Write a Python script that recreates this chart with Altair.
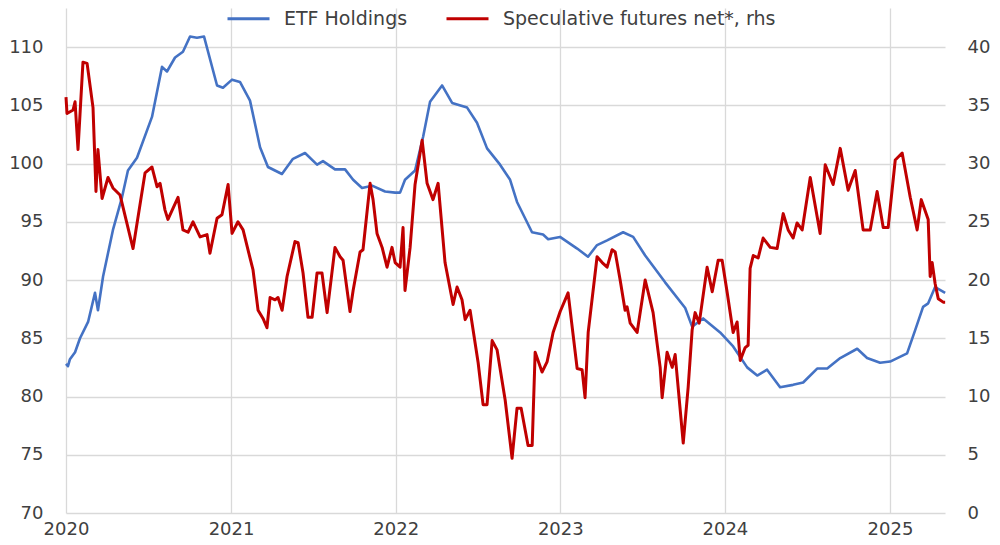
import altair as alt
import pandas as pd

# ---- data (years elapsed since 2020-01-01, values) ----
etf_t = [0.000, 0.012, 0.024, 0.055, 0.085, 0.134, 0.176, 0.194, 0.225, 0.285, 0.340, 0.376,
         0.431, 0.522, 0.583, 0.613, 0.662, 0.710, 0.753, 0.795, 0.838, 0.917, 0.953, 1.008,
         1.056, 1.117, 1.178, 1.226, 1.311, 1.378, 1.451, 1.524, 1.560, 1.633, 1.694, 1.743,
         1.797, 1.858, 1.937, 1.998, 2.028, 2.058, 2.119, 2.168, 2.210, 2.283, 2.344, 2.435,
         2.495, 2.556, 2.635, 2.696, 2.738, 2.829, 2.896, 2.927, 2.999, 3.103, 3.169, 3.224,
         3.285, 3.382, 3.443, 3.516, 3.637, 3.759, 3.801, 3.868, 3.971, 4.050, 4.135, 4.196,
         4.256, 4.335, 4.414, 4.475, 4.560, 4.621, 4.700, 4.803, 4.863, 4.942, 5.003, 5.106,
         5.155, 5.203, 5.234, 5.276, 5.337]
etf_v = [82.8, 82.6, 83.2, 83.8, 85.0, 86.4, 88.9, 87.4, 90.3, 94.3, 97.1, 99.4,
         100.5, 104.0, 108.3, 107.9, 109.1, 109.6, 110.9, 110.8, 110.9, 106.7, 106.5, 107.2,
         107.0, 105.4, 101.4, 99.7, 99.1, 100.4, 100.9, 99.9, 100.2, 99.5, 99.5, 98.6,
         97.9, 98.1, 97.6, 97.5, 97.5, 98.6, 99.4, 102.3, 105.3, 106.7, 105.2, 104.8,
         103.5, 101.3, 99.9, 98.6, 96.7, 94.1, 93.9, 93.5, 93.7, 92.7, 92.0, 93.0,
         93.4, 94.1, 93.7, 92.1, 89.8, 87.6, 86.0, 86.7, 85.5, 84.3, 82.5, 81.8,
         82.3, 80.8, 81.0, 81.2, 82.4, 82.4, 83.3, 84.1, 83.3, 82.9, 83.0, 83.7,
         85.7, 87.7, 88.0, 89.4, 88.9]

spec_t = [0.000, 0.006, 0.043, 0.055, 0.073, 0.103, 0.128, 0.164, 0.182, 0.194, 0.219, 0.255,
          0.285, 0.328, 0.407, 0.480, 0.522, 0.553, 0.571, 0.601, 0.619, 0.680, 0.710, 0.741,
          0.771, 0.814, 0.856, 0.874, 0.917, 0.947, 0.984, 1.008, 1.044, 1.075, 1.117, 1.135,
          1.166, 1.196, 1.220, 1.239, 1.269, 1.287, 1.312, 1.342, 1.390, 1.409, 1.439, 1.469,
          1.494, 1.524, 1.554, 1.585, 1.633, 1.664, 1.682, 1.724, 1.743, 1.785, 1.803, 1.846,
          1.864, 1.888, 1.919, 1.949, 1.979, 1.998, 2.028, 2.046, 2.058, 2.089, 2.119, 2.162,
          2.192, 2.228, 2.259, 2.301, 2.350, 2.374, 2.404, 2.423, 2.453, 2.502, 2.532, 2.556,
          2.587, 2.617, 2.666, 2.708, 2.738, 2.763, 2.805, 2.830, 2.848, 2.890, 2.921, 2.957,
          3.000, 3.048, 3.103, 3.133, 3.151, 3.170, 3.224, 3.255, 3.285, 3.315, 3.334, 3.364,
          3.394, 3.406, 3.425, 3.467, 3.516, 3.564, 3.607, 3.619, 3.649, 3.680, 3.698, 3.747,
          3.777, 3.801, 3.819, 3.844, 3.892, 3.923, 3.959, 3.983, 4.014, 4.050, 4.074, 4.093,
          4.123, 4.141, 4.153, 4.172, 4.202, 4.232, 4.275, 4.317, 4.354, 4.384, 4.414, 4.438,
          4.469, 4.518, 4.578, 4.609, 4.657, 4.700, 4.748, 4.791, 4.839, 4.882, 4.924, 4.961,
          4.991, 5.034, 5.076, 5.125, 5.167, 5.192, 5.234, 5.246, 5.258, 5.276, 5.295, 5.325,
          5.337]
spec_v = [35.7, 34.3, 34.6, 35.3, 31.2, 38.7, 38.6, 34.8, 27.6, 31.2, 27.0, 28.8,
          27.9, 27.3, 22.7, 29.2, 29.7, 28.0, 28.3, 26.0, 25.2, 27.1, 24.3, 24.1,
          25.0, 23.7, 23.9, 22.3, 25.3, 25.6, 28.2, 24.0, 25.0, 24.3, 21.9, 20.9,
          17.4, 16.7, 15.9, 18.5, 18.3, 18.5, 17.4, 20.3, 23.3, 23.2, 20.6, 16.8,
          16.8, 20.6, 20.6, 17.2, 22.8, 22.0, 21.7, 17.3, 19.1, 22.4, 22.6, 28.3,
          26.9, 24.0, 22.8, 21.1, 22.8, 21.5, 21.1, 24.5, 19.1, 22.8, 28.2, 32.0,
          28.3, 26.9, 28.3, 21.5, 17.9, 19.4, 18.3, 16.6, 17.4, 12.9, 9.3, 9.3,
          14.8, 14.0, 9.7, 4.7, 9.0, 9.0, 5.8, 5.8, 13.8, 12.1, 13.0, 15.5,
          17.3, 18.9, 12.4, 12.3, 9.9, 15.5, 22.0, 21.5, 21.1, 22.6, 22.4, 20.0,
          17.4, 17.7, 16.3, 15.5, 20.0, 17.2, 12.5, 9.9, 13.8, 12.5, 13.6, 6.0,
          10.8, 15.7, 17.2, 16.3, 21.1, 19.0, 21.7, 21.7, 18.9, 15.5, 16.4, 13.1,
          14.2, 14.4, 21.0, 22.1, 21.9, 23.6, 22.8, 22.7, 25.7, 24.3, 23.6, 24.9,
          24.3, 28.8, 24.0, 29.9, 28.2, 31.3, 27.7, 29.4, 24.3, 24.3, 27.6, 24.5,
          24.5, 30.3, 30.9, 27.1, 24.3, 26.9, 25.2, 20.3, 21.5, 19.7, 18.4, 18.1,
          18.1]

series_names = ["ETF Holdings", "Speculative futures net*, rhs"]
colors = ["#4472c4", "#c00000"]
left_ticks = [70, 75, 80, 85, 90, 95, 100, 105, 110]
right_ticks = [0, 5, 10, 15, 20, 25, 30, 35, 40]

base_date = pd.Timestamp("2020-01-01")


def to_dates(ts):
    return [base_date + pd.to_timedelta(t * 365.25, unit="D") for t in ts]


df_etf = pd.DataFrame({"date": to_dates(etf_t), "value": etf_v, "series": series_names[0]})
df_spec = pd.DataFrame({"date": to_dates(spec_t), "value": spec_v, "series": series_names[1]})

FONT = "DejaVu Sans"
TXT = "#404040"
GRID = "#d9d9d9"

x_enc = alt.X(
    "date:T",
    scale=alt.Scale(domain=[alt.DateTime(year=2020, month=1, date=1),
                            alt.DateTime(year=2025, month=5, date=3)]),
    axis=alt.Axis(title=None, format="%Y", tickCount={"interval": "year", "step": 1},
                  grid=True, gridColor=GRID, gridWidth=1.3, domain=False, ticks=False,
                  labelFlush=False, labelPadding=7, labelFontSize=18, labelColor=TXT,
                  labelFont=FONT),
)

color_enc = alt.Color(
    "series:N",
    scale=alt.Scale(domain=series_names, range=colors),
    legend=alt.Legend(title=None, orient="none", direction="horizontal",
                      legendX=160, legendY=-12, symbolType="stroke",
                      symbolSize=1764, symbolStrokeWidth=2.8, labelFontSize=19,
                      labelFont=FONT, labelColor=TXT, labelOffset=13,
                      columnPadding=32, labelLimit=500, padding=0),
)

etf = alt.Chart(df_etf).mark_line(strokeWidth=2.6, strokeJoin="round").encode(
    x=x_enc,
    y=alt.Y("value:Q", scale=alt.Scale(domain=[70, 113.35], nice=False, zero=False),
            axis=alt.Axis(title=None, values=left_ticks, grid=True, gridColor=GRID,
                          gridWidth=1.3, domain=False, ticks=False, labelPadding=23,
                          labelFontSize=18, labelColor=TXT, labelFont=FONT)),
    color=color_enc,
)

spec = alt.Chart(df_spec).mark_line(strokeWidth=3.0, strokeJoin="round").encode(
    x=x_enc,
    y=alt.Y("value:Q", scale=alt.Scale(domain=[0, 43.35], nice=False),
            axis=alt.Axis(title=None, orient="right", values=right_ticks, grid=False,
                          domain=False, ticks=False, labelPadding=22,
                          labelFontSize=18, labelColor=TXT, labelFont=FONT)),
    color=color_enc,
)

chart = alt.layer(etf, spec).resolve_scale(y="independent").properties(
    width=879, height=505,
    autosize=alt.AutoSizeParams(type="none"),
    padding={"left": 58, "top": 0, "right": 47, "bottom": 24},
    background="white",
).configure_view(stroke="transparent", strokeWidth=0, strokeOpacity=0)

chart.save("out.html", embed_options={"renderer": "svg", "actions": False})
